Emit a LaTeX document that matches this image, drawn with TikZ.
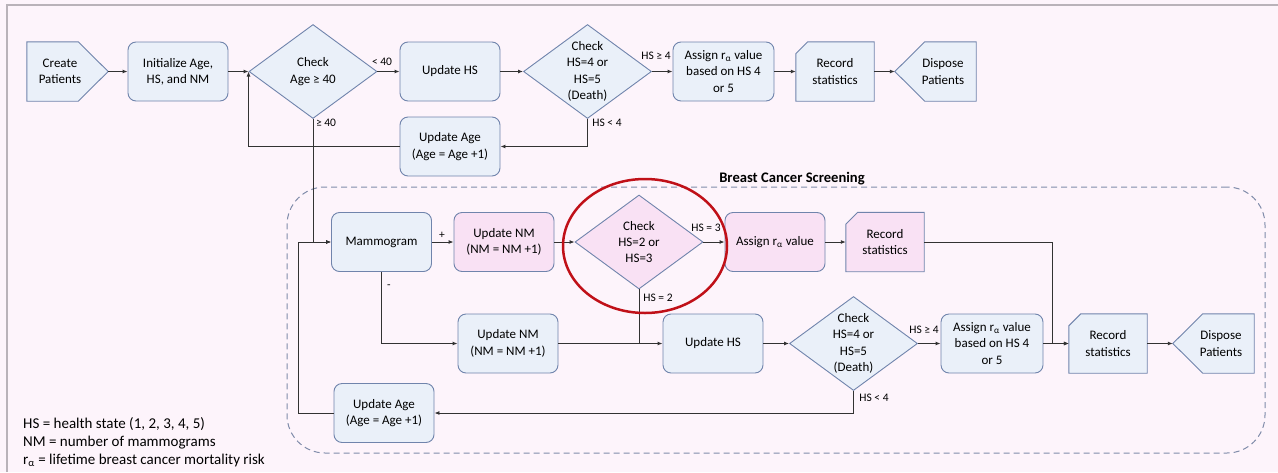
\documentclass[tikz,border=0pt]{standalone}
\usepackage{fontspec}
\setmainfont{Carlito}
\usetikzlibrary{shapes.geometric,arrows.meta}
\pgfdeclarelayer{background}
\pgfsetlayers{background,main}
\definecolor{pagebg}{RGB}{253,244,251}
\definecolor{bfill}{RGB}{234,240,249}
\definecolor{pfill}{RGB}{249,225,244}
\definecolor{bline}{RGB}{112,132,172}
\definecolor{lcol}{RGB}{50,50,50}
\definecolor{dcol}{RGB}{128,140,170}
\definecolor{redc}{RGB}{192,16,24}
\definecolor{framec}{RGB}{185,178,185}
\begin{document}
\begin{tikzpicture}[x=1pt,y=-1pt,
  nfont/.style={font=\fontsize{13}{16.3}\selectfont},
  proc/.style={nfont, rectangle, rounded corners=8pt, draw=bline, fill=bfill, minimum width=100pt, minimum height=59pt, align=center, inner sep=2pt, line width=0.9pt},
  procp/.style={proc, fill=pfill},
  dia/.style={diamond, draw=bline, fill=bfill, minimum width=128pt, minimum height=94pt, inner sep=0pt, line width=0.9pt},
  diap/.style={dia, fill=pfill},
  dtext/.style={nfont, align=center, inner sep=0pt},
  sbox/.style={nfont, rectangle, minimum height=59pt, align=center, inner sep=0pt},
  shp/.style={draw=bline, fill=bfill, line width=0.9pt, line join=miter},
  shpp/.style={shp, fill=pfill},
  lbl/.style={font=\fontsize{11.5}{13}\selectfont, inner sep=0pt},
  conn/.style={draw=lcol, line width=0.9pt, -{Latex[length=5pt,width=4pt]}},
  link/.style={draw=lcol, line width=0.9pt},
]
\useasboundingbox (0,0) rectangle (1278,472);
\begin{pgfonlayer}{background}
\fill[pagebg] (0,0) rectangle (1278,472);
\draw[framec, line width=1.2pt] (7,472) -- (7,5) -- (1278,5);
\end{pgfonlayer}

% screening group box
\node[draw=dcol, dash pattern=on 6pt off 4pt, line width=1pt, rounded corners=38pt, minimum width=978pt, minimum height=266pt, inner sep=0pt] (bcs) at (776,320) {};
\node[font=\bfseries\fontsize{14.6}{16}\selectfont, inner sep=0pt] (title) at (792,179) {Breast Cancer Screening};

% ---------- top row ----------
\node[sbox, minimum width=66pt] (cp) at (60,71.5) {Create\\Patients};
\coordinate (cptip) at ([xshift=15pt]cp.east);
\node[proc] (init) at (178,71.5) {Initialize Age,\\HS, and NM};
\node[dia] (d1) at (313,71.5) {};
\node[dtext] (d1t) at (d1) {Check\\Age ≥ 40};
\node[proc] (uhs) at (450,71.5) {Update HS};
\node[dia] (d2) at (587.5,71.5) {};
\node[dtext] (d2t) at (d2) {Check\\HS=4 or\\HS=5\\(Death)};
\node[proc, minimum width=101pt] (asg1) at (723.5,71.5) {Assign r\textsubscript{α} value\\based on HS 4\\or 5};
\node[sbox, minimum width=78pt] (rs1) at (835,71.5) {Record\\statistics};
\node[sbox, minimum width=66pt] (dp1) at (943,71.5) {Dispose\\Patients};
\coordinate (dp1tip) at ([xshift=-15pt]dp1.west);
\node[proc] (ua1) at (450,146.5) {Update Age\\(Age = Age +1)};

% ---------- screening rows ----------
\node[proc] (mam) at (381.5,242) {Mammogram};
\node[procp] (unm1) at (504,242) {Update NM\\(NM = NM +1)};
\node[diap] (d3) at (639,242) {};
\node[dtext] (d3t) at (d3) {Check\\HS=2 or\\HS=3};
\node[procp] (asg2) at (775,242) {Assign r\textsubscript{α} value};
\node[sbox, minimum width=78pt] (rs2) at (885,242) {Record\\statistics};

\node[proc] (unm2) at (508,343.5) {Update NM\\(NM = NM +1)};
\node[proc] (uhs2) at (713,343.5) {Update HS};
\node[dia] (d4) at (853.5,343.5) {};
\node[dtext] (d4t) at (d4) {Check\\HS=4 or\\HS=5\\(Death)};
\node[proc, minimum width=102pt] (asg3) at (992,343.5) {Assign r\textsubscript{α} value\\based on HS 4\\or 5};
\node[sbox, minimum width=78pt] (rs3) at (1108,343.5) {Record\\statistics};
\node[sbox, minimum width=66pt] (dp2) at (1221,343.5) {Dispose\\Patients};
\coordinate (dp2tip) at ([xshift=-15pt]dp2.west);
\node[proc] (ua2) at (384,413) {Update Age\\(Age = Age +1)};

% special outlines
\begin{pgfonlayer}{background}
\draw[shp] (cp.north west) -- ([xshift=-15pt]cp.north east) -- (cptip) -- ([xshift=-15pt]cp.south east) -- (cp.south west) -- cycle;
\draw[shp] ([yshift=-12pt]rs1.north west) -- ([xshift=12pt]rs1.north west) -- (rs1.north east) -- (rs1.south east) -- (rs1.south west) -- cycle;
\draw[shpp] ([yshift=-12pt]rs2.north west) -- ([xshift=12pt]rs2.north west) -- (rs2.north east) -- (rs2.south east) -- (rs2.south west) -- cycle;
\draw[shp] ([yshift=-12pt]rs3.north west) -- ([xshift=12pt]rs3.north west) -- (rs3.north east) -- (rs3.south east) -- (rs3.south west) -- cycle;
\draw[shp] (dp1tip) -- ([xshift=15pt]dp1.north west) -- (dp1.north east) -- (dp1.south east) -- ([xshift=15pt]dp1.south west) -- cycle;
\draw[shp] (dp2tip) -- ([xshift=15pt]dp2.north west) -- (dp2.north east) -- (dp2.south east) -- ([xshift=15pt]dp2.south west) -- cycle;
\end{pgfonlayer}

\coordinate (jL) at (298,242);
\coordinate (jR) at (1052,343.5);

% ---------- connectors top ----------
\draw[conn] (cptip) -- (init.west);
\draw[conn] (init.east) -- (d1.west);
\draw[conn] (d1.east) -- (uhs.west);
\draw[conn] (uhs.east) -- (d2.west);
\draw[conn] (d2.east) -- (asg1.west);
\draw[conn] (asg1.east) -- (rs1.west);
\draw[conn] (rs1.east) -- (dp1tip);
\draw[conn] (d2.south) |- (ua1.east);
\draw[conn] (ua1.west) -| (d1.west);

% ---------- connectors screening ----------
\draw[conn] (d1.south) |- (mam.west);
\draw[conn] (ua2.west) -| (jL) -- (mam.west);
\draw[conn] (mam.east) -- (unm1.west);
\draw[conn] (unm1.east) -- (d3.west);
\draw[conn] (d3.east) -- (asg2.west);
\draw[conn] (asg2.east) -- (rs2.west);
\draw[conn] (rs2.east) -| (jR) -- (rs3.west);
\draw[conn] (mam.south) |- (unm2.west);
\draw[conn] (unm2.east) -- (uhs2.west);
\draw[link] (d3.south) -- (d3.south |- uhs2.west);
\draw[conn] (uhs2.east) -- (d4.west);
\draw[conn] (d4.east) -- (asg3.west);
\draw[conn] (asg3.east) -- (rs3.west);
\draw[conn] (rs3.east) -- (dp2tip);
\draw[conn] (d4.south) |- (ua2.east);

% labels
\node[lbl] (l1) at (382,62) {< 40};
\node[lbl] (l2) at (326,123) {≥ 40};
\node[lbl] (l3) at (656,56) {HS ≥ 4};
\node[lbl] (l4) at (607,123) {HS < 4};
\node[lbl] (l5) at (442,235) {+};
\node[lbl] (l6) at (389,287) {-};
\node[lbl] (l7) at (706,228) {HS = 3};
\node[lbl] (l8) at (658,298) {HS = 2};
\node[lbl] (l9) at (924,330) {HS ≥ 4};
\node[lbl] (l10) at (874,398) {HS < 4};

% highlight
\node[ellipse, draw=redc, line width=2.5pt, minimum width=164pt, minimum height=134pt, inner sep=0pt] (hl) at (645,246) {};

% legend
\node[font=\fontsize{15}{18}\selectfont, align=left, anchor=north west, inner sep=0pt] (legend) at (23,417) {HS = health state (1, 2, 3, 4, 5)\\NM = number of mammograms\\r\textsubscript{α} = lifetime breast cancer mortality risk};
\end{tikzpicture}
\end{document}
